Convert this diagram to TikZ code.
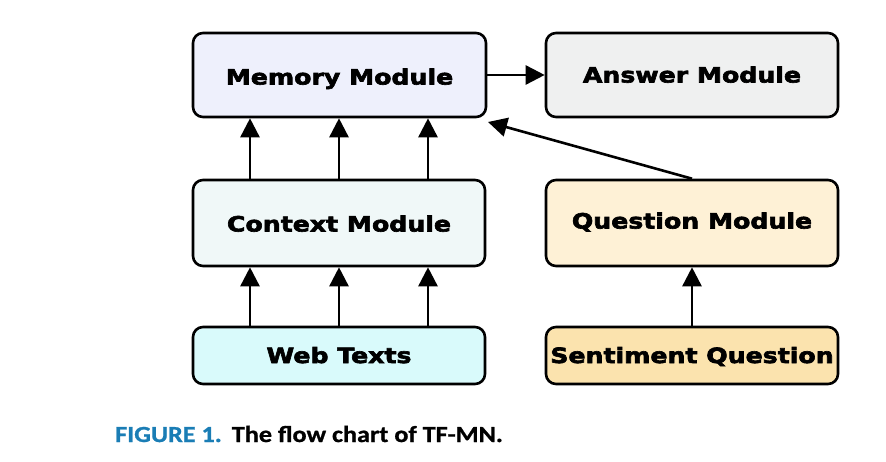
\documentclass[tikz,border=0pt]{standalone}
\usepackage{fontspec}
\setmainfont{DejaVu Sans}[BoldFeatures={FakeStretch=1.2,FakeBold=3}]
\newfontfamily\capfont{Carlito}[BoldFeatures={FakeStretch=1.14,FakeBold=1}]
\usetikzlibrary{arrows.meta}
\definecolor{memfill}{HTML}{EEF0FC}
\definecolor{ansfill}{HTML}{EFF0F0}
\definecolor{ctxfill}{HTML}{F0F8F8}
\definecolor{qfill}{HTML}{FEF1D6}
\definecolor{webfill}{HTML}{D9FAFB}
\definecolor{sentfill}{HTML}{FBE3AE}
\definecolor{capblue}{HTML}{1A7DB5}
\tikzset{
  x=1pt,y=-1pt,
  box/.style={draw=black, line width=2.6pt, rounded corners=10pt, inner sep=0pt,
    font=\fontsize{21}{24}\selectfont\bfseries, text=black, text height=15pt, text depth=0pt},
  arr/.style={line width=2.6pt, -{Triangle[width=19pt,length=19pt]}},
}
\begin{document}
\begin{tikzpicture}
\useasboundingbox (0,0) rectangle (886,462);
\node[box, fill=memfill, minimum width=293pt, minimum height=84pt] (mem) at (339.5,75) {\raisebox{-2pt}{Memory Module}};
\node[box, fill=ansfill, minimum width=292pt, minimum height=84pt] (ans) at (692,75) {Answer Module};
\node[box, fill=ctxfill, minimum width=292pt, minimum height=86pt] (ctx) at (339,223) {\raisebox{-1pt}{Context Module}};
\node[box, fill=qfill, minimum width=292pt, minimum height=86pt] (que) at (692,223) {\raisebox{2pt}{Question Module}};
\node[box, fill=webfill, minimum width=292pt, minimum height=57pt] (web) at (339,355.5) {Web Texts};
\node[box, fill=sentfill, minimum width=292pt, minimum height=57pt] (sen) at (692,355.5) {Sentiment Question};
\foreach \xx in {250,339,428}{
  \draw[arr] (ctx.north -| \xx,0) -- (mem.south -| \xx,0);
  \draw[arr] (web.north -| \xx,0) -- (ctx.south -| \xx,0);
}
\draw[arr] (sen.north) -- (que.south);
\draw[arr] (mem.east) -- (ans.west);
\coordinate (tip) at (488,122);
\draw[arr] (que.north) -- (tip);
\node[anchor=base west, inner sep=0pt, font=\capfont\fontsize{23}{26}\selectfont\bfseries] (cap) at (115,442)
  {\textcolor{capblue}{FIGURE 1.}\hspace{10pt}The flow chart of TF-MN.};
\end{tikzpicture}
\end{document}
